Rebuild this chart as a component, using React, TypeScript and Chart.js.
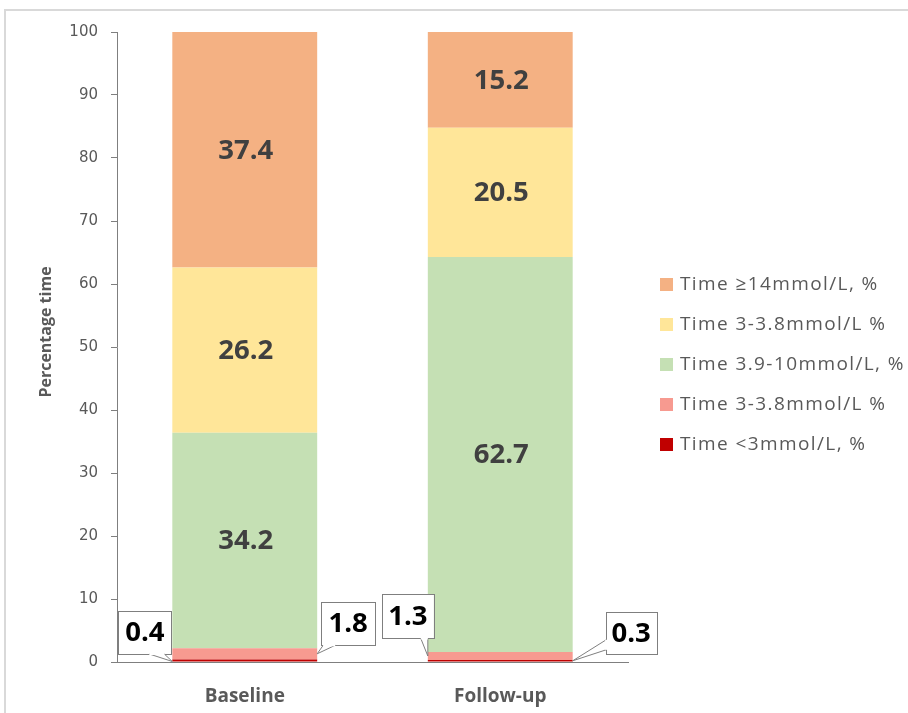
import React, { useEffect, useRef } from 'react';
import { Chart, registerables } from 'chart.js';

Chart.register(...registerables);

// ---- data ----
const categories = ['Baseline', 'Follow-up'];
const seriesLabels = [
  'Time <3mmol/L, %',
  'Time 3-3.8mmol/L %',
  'Time 3.9-10mmol/L, %',
  'Time 3-3.8mmol/L %',
  'Time ≥14mmol/L, %',
];
const below3 = [0.4, 0.3];
const low3to38 = [1.8, 1.3];
const inRange = [34.2, 62.7];
const aboveRange = [26.2, 20.5];
const veryHigh = [37.4, 15.2];
const yTickValues = [0, 10, 20, 30, 40, 50, 60, 70, 80, 90, 100];
const yTitle = 'Percentage time';

const seriesColors = ['#C00000', '#F79A90', '#C5E0B4', '#FFE699', '#F4B183'];

// callout styling (positions relative to the bar segment anchor)
const calloutStyles: Record<string, any> = {
  '0-0': { side: 'left', vy: 'base', box: [-54, -51, 53, 43], tail: ['bottom', -23, -8] },
  '1-0': { side: 'right', vy: 'mid', box: [4, -52, 54, 43], tail: ['bottom', 6, 18] },
  '1-1': { side: 'left', vy: 'mid', box: [-46, -62, 52, 44], tail: ['bottom', -7, 0] },
  '0-1': { side: 'right', vy: 'mid', box: [33, -49, 51, 42], tail: ['left', -21, -11] },
};

const LABEL_FONT = 'bold 27.5px "Open Sans", sans-serif';

const labelsPlugin = {
  id: 'segLabels',
  afterDatasetsDraw(chart: any) {
    const ctx = chart.ctx;
    ctx.save();
    chart.data.datasets.forEach((ds: any, di: number) => {
      const meta = chart.getDatasetMeta(di);
      meta.data.forEach((bar: any, i: number) => {
        const v = ds.data[i];
        const text = v.toFixed(1);
        const key = `${di}-${i}`;
        const st = calloutStyles[key];
        if (!st) {
          ctx.font = LABEL_FONT;
          ctx.fillStyle = '#404040';
          ctx.textAlign = 'center';
          ctx.textBaseline = 'middle';
          ctx.fillText(text, bar.x + 1, (bar.y + bar.base) / 2 + 1);
          return;
        }
        const ax = st.side === 'left' ? bar.x - bar.width / 2 : bar.x + bar.width / 2;
        const ay = st.vy === 'base' ? bar.base : (bar.y + bar.base) / 2;
        const [bx0, by0, bw, bh] = st.box;
        const bx = ax + bx0;
        const by = ay + by0;
        ctx.fillStyle = '#ffffff';
        ctx.strokeStyle = '#7f7f7f';
        ctx.lineWidth = 1;
        ctx.fillRect(bx, by, bw, bh);
        ctx.strokeRect(Math.round(bx) + 0.5, Math.round(by) + 0.5, bw, bh);
        let p1: number[], p2: number[];
        if (st.tail[0] === 'bottom') {
          p1 = [ax + st.tail[1], by + bh + 0.5];
          p2 = [ax + st.tail[2], by + bh + 0.5];
        } else {
          p1 = [bx + 0.5, ay + st.tail[1]];
          p2 = [bx + 0.5, ay + st.tail[2]];
        }
        ctx.beginPath();
        ctx.moveTo(p1[0], p1[1]);
        ctx.lineTo(ax, ay);
        ctx.lineTo(p2[0], p2[1]);
        ctx.closePath();
        ctx.fillStyle = '#ffffff';
        ctx.fill();
        ctx.beginPath();
        ctx.moveTo(p1[0], p1[1]);
        ctx.lineTo(ax, ay);
        ctx.lineTo(p2[0], p2[1]);
        ctx.stroke();
        ctx.beginPath();
        ctx.moveTo(p1[0], p1[1]);
        ctx.lineTo(p2[0], p2[1]);
        ctx.strokeStyle = '#ffffff';
        ctx.lineWidth = 2;
        ctx.stroke();
        ctx.font = LABEL_FONT;
        ctx.fillStyle = '#000000';
        ctx.textAlign = 'center';
        ctx.textBaseline = 'middle';
        ctx.fillText(text, bx + bw / 2, by + bh / 2 + 1);
      });
    });
    ctx.restore();
  },
};

const legendPlugin = {
  id: 'customLegend',
  afterDraw(chart: any) {
    const ctx = chart.ctx;
    ctx.save();
    const items = chart.data.datasets.map((d: any) => ({ label: d.label, color: d.backgroundColor })).reverse();
    items.forEach((it: any, k: number) => {
      const cy = 284 + k * 40;
      ctx.fillStyle = it.color;
      ctx.fillRect(660, cy - 6, 13, 13);
      ctx.font = '19px "Open Sans", sans-serif';
      (ctx as any).letterSpacing = '1.4px';
      ctx.fillStyle = '#595959';
      ctx.textAlign = 'left';
      ctx.textBaseline = 'middle';
      ctx.fillText(it.label, 680, cy + 1);
    });
    (ctx as any).letterSpacing = '0px';
    ctx.translate(46, 332);
    ctx.rotate(-Math.PI / 2);
    ctx.font = 'bold 16px "Open Sans", sans-serif';
    ctx.fillStyle = '#595959';
    ctx.textAlign = 'center';
    ctx.textBaseline = 'middle';
    ctx.fillText(yTitle, 0, 0);
    ctx.restore();
  },
};

export default function App() {
  const ref = useRef<HTMLCanvasElement>(null);
  useEffect(() => {
    if (!ref.current) return;
    const seriesData = [below3, low3to38, inRange, aboveRange, veryHigh];
    const chart = new Chart(ref.current, {
      type: 'bar',
      data: {
        labels: categories,
        datasets: seriesData.map((d, i) => ({
          label: seriesLabels[i],
          data: d,
          backgroundColor: seriesColors[i],
          borderWidth: 0,
          barPercentage: 0.567,
          categoryPercentage: 1,
        })),
      },
      options: {
        responsive: false,
        animation: false,
        layout: { padding: { left: 0, right: 280, top: 32, bottom: 0 } },
        plugins: { legend: { display: false }, tooltip: { enabled: false } },
        scales: {
          x: {
            stacked: true,
            grid: { display: false, drawTicks: false },
            border: { display: true, color: '#7f7f7f', width: 1 },
            ticks: {
              padding: 23,
              color: '#595959',
              font: { family: '"Open Sans", sans-serif', size: 19, weight: 'bold' },
            },
            afterFit: (s: any) => { s.height = 51; },
          },
          y: {
            stacked: true,
            min: 0,
            max: 100,
            afterBuildTicks: (s: any) => { s.ticks = yTickValues.map((v) => ({ value: v })); },
            ticks: {
              padding: 13,
              color: '#595959',
              font: { family: '"DejaVu Sans", sans-serif', size: 15 },
            },
            grid: { drawOnChartArea: false, tickLength: 6, color: '#7f7f7f' },
            border: { display: true, color: '#7f7f7f', width: 1 },
            afterFit: (s: any) => { s.width = 117; },
          },
        },
      },
      plugins: [labelsPlugin, legendPlugin],
    });
    return () => chart.destroy();
  }, []);

  return (
    <div style={{ position: 'absolute', left: 0, top: 0, width: 908, height: 713, background: '#fff', overflow: 'hidden' }}>
      <div style={{ position: 'absolute', left: 4, top: 9, width: 1000, height: 800, border: '2px solid #d9d9d9' }} />
      <canvas ref={ref} width={908} height={713} style={{ position: 'absolute', left: 0, top: 0 }} />
    </div>
  );
}
